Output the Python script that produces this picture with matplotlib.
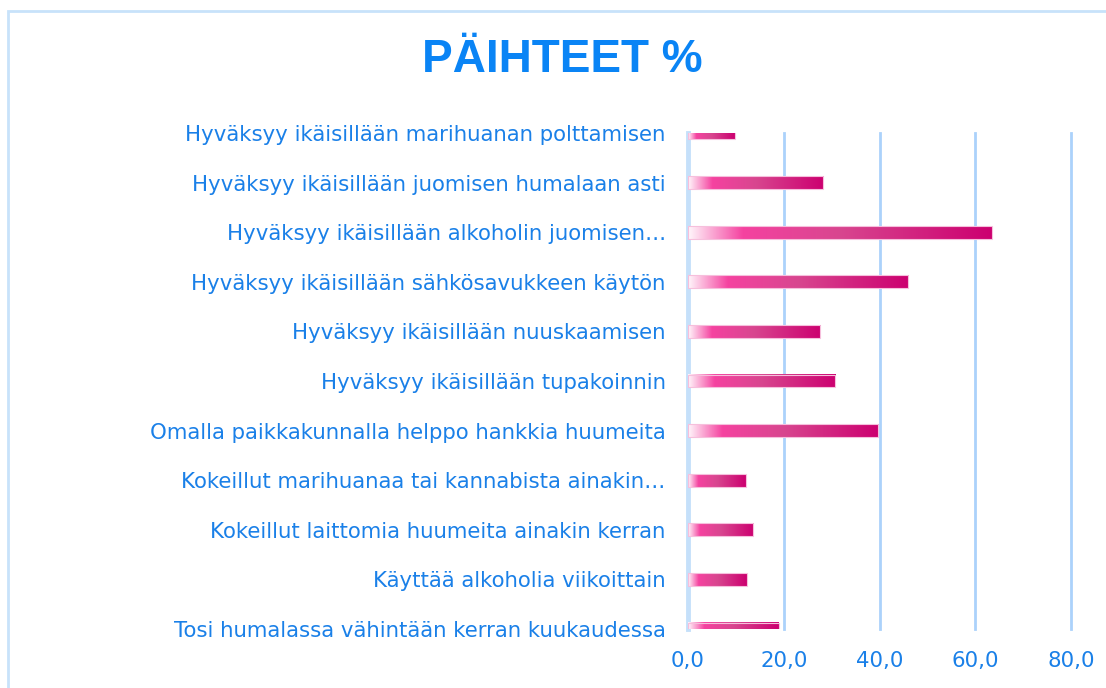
import numpy as np
import matplotlib.pyplot as plt
from matplotlib.colors import LinearSegmentedColormap
from matplotlib.patches import Rectangle
from matplotlib.ticker import FuncFormatter

categories = [
    "Hyväksyy ikäisillään marihuanan polttamisen",
    "Hyväksyy ikäisillään juomisen humalaan asti",
    "Hyväksyy ikäisillään alkoholin juomisen…",
    "Hyväksyy ikäisillään sähkösavukkeen käytön",
    "Hyväksyy ikäisillään nuuskaamisen",
    "Hyväksyy ikäisillään tupakoinnin",
    "Omalla paikkakunnalla helppo hankkia huumeita",
    "Kokeillut marihuanaa tai kannabista ainakin…",
    "Kokeillut laittomia huumeita ainakin kerran",
    "Käyttää alkoholia viikoittain",
    "Tosi humalassa vähintään kerran kuukaudessa",
]
values = [9.8, 28.2, 63.4, 46.0, 27.6, 30.8, 39.7, 12.1, 13.6, 12.3, 19.0]
xticks = [0, 20, 40, 60, 80]

blue = '#1a80e8'
grid_blue = '#abd2fb'

cmap = LinearSegmentedColormap.from_list(
    'pinkbar', [(0.0, '#fff6fb'), (0.18, '#f542a0'), (0.5, '#d8468f'), (1.0, '#cc0070')])

fig = plt.figure(figsize=(11.06, 6.88), dpi=100)
fig.patches.append(Rectangle((8 / 1106, -0.1), 1.2, 1.1 - 11 / 688, transform=fig.transFigure,
                             fill=False, edgecolor='#c8e2fa', linewidth=2, zorder=0))

ax = fig.add_axes([688 / 1106, 1 - 629 / 688, (1071 - 688) / 1106, (629 - 133) / 688])

h = 0.26
grad = np.linspace(0, 1, 256).reshape(1, -1)
for i, v in enumerate(values):
    ax.imshow(grad, cmap=cmap, extent=[0, v, i + h / 2, i - h / 2], aspect='auto',
              interpolation='bilinear', zorder=3)
    ax.add_patch(Rectangle((0, i - h / 2), v, h, fill=False, edgecolor='#f6bfdc',
                           linewidth=0.8, zorder=4))

ax.set_xlim(0, 80)
ax.set_ylim(len(values) - 1, 0)
ax.set_yticks(range(len(categories)))
ax.set_yticklabels(categories)
ax.set_xticks(xticks)
ax.xaxis.set_major_formatter(FuncFormatter(lambda x, p: f"{x:.1f}".replace('.', ',')))
ax.tick_params(axis='both', length=0, colors=blue, labelsize=15.3)
ax.tick_params(axis='y', pad=16)
ax.tick_params(axis='x', pad=16)
for s in ax.spines.values():
    s.set_visible(False)

# pystysuorat apuviivat, ei leikata reunoilla
for x in xticks[1:]:
    ax.axvline(x, color=grid_blue, linewidth=2, zorder=1, clip_on=False)
ax.axvline(0, color='#c5e0fa', linewidth=3.5, zorder=2, clip_on=False)
ax.set_facecolor('none')

fig.text(562 / 1106, 1 - 60 / 688, "PÄIHTEET %", ha='center', va='center', color='#0a84f5',
         fontsize=33, fontweight='bold', family=['Liberation Sans', 'DejaVu Sans'])

plt.savefig("out.png", dpi=100)
